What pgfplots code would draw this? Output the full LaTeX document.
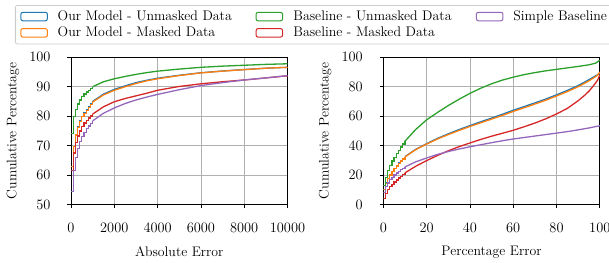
\documentclass[border=0pt]{standalone}
\usepackage{pgfplots}
\pgfplotsset{compat=1.18}
\definecolor{tabblue}{HTML}{1F77B4}
\definecolor{taborange}{HTML}{FF7F0E}
\definecolor{tabgreen}{HTML}{2CA02C}
\definecolor{tabred}{HTML}{D62728}
\definecolor{tabpurple}{HTML}{9467BD}
\definecolor{gridgray}{HTML}{B0B0B0}
\pgfplotsset{
  cdfaxis/.style={
    scale only axis, width=216.5pt, height=147.2pt,
    font=\fontsize{13.8}{16}\selectfont,
    axis line style={black, line width=0.8pt},
    grid=major, major grid style={gridgray, line width=0.8pt},
    tick pos=left, tick align=outside, major tick length=3.5pt,
    tick style={black, line width=0.8pt},
    scaled ticks=false,
    /pgf/number format/1000 sep={},
    xticklabel style={anchor=center, yshift=-19.5pt},
    yticklabel style={anchor=east, xshift=-13.5pt},
    xlabel style={at={(axis description cs:0.5,-0.3207)}, anchor=center},
    ylabel style={at={(axis description cs:-0.268,0.5)}, anchor=center},
    every axis plot/.append style={line width=1.3pt, line join=miter},
  }
}
\begin{document}
\begin{tikzpicture}
\begin{axis}[cdfaxis, at={(71pt,57.5pt)}, anchor=south west,
  xmin=0, xmax=10000, ymin=50, ymax=100,
  xtick={0,2000,4000,6000,8000,10000}, ytick={50,60,70,80,90,100},
  xlabel={Absolute Error}, ylabel={Cumulative Percentage},
  legend columns=3,
  legend cell align=left,
  legend image code/.code={\draw[#1, line width=1pt, fill=none] (0pt,-4.25pt) rectangle (26.5pt,4.25pt);},
  legend style={at={(axis description cs:-0.2587,1.3553)}, anchor=north west,
    draw=black!20, line width=0.8pt, rounded corners=2pt,
    inner xsep=5pt, inner ysep=5.5pt, column sep=0pt, row sep=5pt,
    nodes={inner sep=0pt}, font=\fontsize{13.9}{16}\selectfont},
]
% legend (row-major order)
\addlegendimage{tabblue}\addlegendentry{\makebox[207.7pt][l]{\hspace{9.8pt}Our Model - Unmasked Data}}
\addlegendimage{tabgreen}\addlegendentry{\makebox[192.8pt][l]{\hspace{10.3pt}Baseline - Unmasked Data}}
\addlegendimage{tabpurple}\addlegendentry{\makebox[160pt][l]{\hspace{10pt}Simple Baseline}}
\addlegendimage{taborange}\addlegendentry{\makebox[207.7pt][l]{\hspace{9.8pt}Our Model - Masked Data}}
\addlegendimage{tabred}\addlegendentry{\makebox[192.8pt][l]{\hspace{10.3pt}Baseline - Masked Data}}
% Our Model - Unmasked
\addplot[tabblue, const plot, forget plot] coordinates {(0,63) (100,69.8) (200,73.8) (300,76.4) (400,78.5) (500,80.0) (600,81.2) (700,82.2) (800,83.2) (900,84.2) (1000,85.0)};
\addplot[tabblue, forget plot] coordinates {(1000,85.0) (1500,87.5) (2000,89.1) (2500,90.3) (3000,91.4) (3500,92.2) (4000,92.9) (5000,93.9) (6000,94.75) (7000,95.35) (8000,95.85) (9000,96.3) (10000,96.6)};
% Our Model - Masked
\addplot[taborange, const plot, forget plot] coordinates {(0,62.8) (100,69.6) (200,73.6) (300,76.2) (400,78.3) (500,79.8) (600,81.0) (700,82.0) (800,83.0) (900,84.0) (1000,84.8)};
\addplot[taborange, forget plot] coordinates {(1000,84.8) (1500,87.2) (2000,88.8) (2500,90.0) (3000,91.1) (3500,92.0) (4000,92.7) (5000,93.8) (6000,94.7) (7000,95.3) (8000,95.8) (9000,96.3) (10000,96.6)};
% Baseline - Unmasked
\addplot[tabgreen, const plot, forget plot] coordinates {(0,74.0) (100,79.8) (200,82.3) (300,84.1) (400,85.5) (500,86.6) (600,87.5) (700,88.2) (800,88.8) (900,89.4) (1000,90.0)};
\addplot[tabgreen, forget plot] coordinates {(1000,90.0) (1500,91.7) (2000,92.7) (2500,93.5) (3000,94.2) (3500,94.8) (4000,95.3) (5000,96.0) (6000,96.6) (7000,97.0) (8000,97.3) (9000,97.6) (10000,97.8)};
% Baseline - Masked
\addplot[tabred, const plot, forget plot] coordinates {(0,61.5) (100,67.5) (200,71.0) (300,73.3) (400,75.0) (500,76.5) (600,77.7) (700,78.6) (800,79.4) (900,80.1) (1000,80.7)};
\addplot[tabred, forget plot] coordinates {(1000,80.7) (1500,83.2) (2000,84.9) (2500,86.0) (3000,86.9) (3500,87.8) (4000,88.8) (5000,90.1) (6000,91.0) (7000,91.7) (8000,92.3) (9000,93.0) (10000,93.7)};
% Simple Baseline
\addplot[tabpurple, const plot, forget plot] coordinates {(0,54.5) (100,61.5) (200,66.0) (300,69.0) (400,71.3) (500,73.0) (600,74.5) (700,75.7) (800,76.7) (900,77.6) (1000,78.4)};
\addplot[tabpurple, forget plot] coordinates {(1000,78.4) (1500,81.0) (2000,82.8) (2500,84.3) (3000,85.5) (3500,86.5) (4000,87.4) (5000,89.0) (6000,90.4) (7000,91.4) (8000,92.3) (9000,93.0) (10000,93.8)};
\end{axis}
\begin{axis}[cdfaxis, at={(383.3pt,57.5pt)}, anchor=south west,
  xmin=0, xmax=100, ymin=0, ymax=100,
  xtick={0,20,40,60,80,100}, ytick={0,20,40,60,80,100},
  xlabel={Percentage Error}, ylabel={Cumulative Percentage},
]
% Our Model - Unmasked
\addplot[tabblue, const plot] coordinates {(0,10.2) (1,14.7) (2,17.7) (3,20.2) (4,22.5) (5,24.5) (6,26.4) (7,28.2) (8,29.7) (9,31.2) (10,32.5)};
\addplot[tabblue] coordinates {(10,32.5) (15,37.5) (20,41.3) (25,44.9) (30,48.0) (35,50.9) (40,53.6) (45,56.2) (50,58.7) (55,61.3) (60,64.0) (65,66.5) (70,69.0) (75,71.6) (80,74.5) (85,77.5) (90,80.8) (95,84.8) (98,87.4) (99,88.2) (100,89.0)};
% Our Model - Masked
\addplot[taborange, const plot] coordinates {(0,10.0) (1,14.5) (2,17.5) (3,20.0) (4,22.3) (5,24.3) (6,26.2) (7,28.0) (8,29.5) (9,31.0) (10,32.3)};
\addplot[taborange] coordinates {(10,32.3) (15,37.3) (20,41.0) (25,44.5) (30,47.5) (35,50.3) (40,53.0) (45,55.5) (50,58.0) (55,60.5) (60,63.2) (65,65.7) (70,68.2) (75,70.8) (80,73.7) (85,76.7) (90,80.0) (95,84.0) (98,86.8) (99,88.0) (100,90.0)};
% Baseline - Unmasked
\addplot[tabgreen, const plot] coordinates {(0,13.0) (1,18.5) (2,23.0) (3,26.5) (4,29.5) (5,32.0) (6,34.5) (7,36.8) (8,39.0) (9,41.0) (10,43.0)};
\addplot[tabgreen] coordinates {(10,43.0) (15,51.0) (20,57.5) (25,62.5) (30,67.2) (35,71.5) (40,75.5) (45,79.0) (50,82.0) (55,84.5) (60,86.5) (65,88.2) (70,89.6) (75,90.8) (80,91.8) (85,92.8) (90,93.8) (95,94.9) (98,96.0) (99,97.0) (100,98.0)};
% Baseline - Masked
\addplot[tabred, const plot] coordinates {(0,4.0) (1,7.5) (2,10.0) (3,12.0) (4,13.7) (5,15.2) (6,16.7) (7,18.0) (8,19.2) (9,20.4) (10,21.5)};
\addplot[tabred] coordinates {(10,21.5) (15,26.0) (20,29.8) (25,33.3) (30,36.5) (35,39.3) (40,41.8) (45,44.2) (50,46.4) (55,48.4) (60,50.4) (65,52.8) (70,55.3) (75,58.2) (80,61.5) (85,65.3) (90,70.5) (93,74.2) (95,77.0) (97,80.5) (98,82.5) (99,84.5) (100,88.0)};
% Simple Baseline
\addplot[tabpurple, const plot] coordinates {(0,8.0) (1,12.0) (2,14.7) (3,16.8) (4,18.5) (5,20.0) (6,21.3) (7,22.5) (8,23.6) (9,24.6) (10,25.5)};
\addplot[tabpurple] coordinates {(10,25.5) (15,29.0) (20,31.6) (25,34.0) (30,36.0) (35,37.7) (40,39.2) (45,40.6) (50,42.0) (55,43.3) (60,44.5) (65,45.5) (70,46.5) (75,47.5) (80,48.5) (85,49.5) (90,50.7) (95,52.0) (100,53.5)};
\end{axis}
\pgfresetboundingbox
\path[use as bounding box] (0pt,0pt) rectangle (609pt,262pt);
\end{tikzpicture}
\end{document}
